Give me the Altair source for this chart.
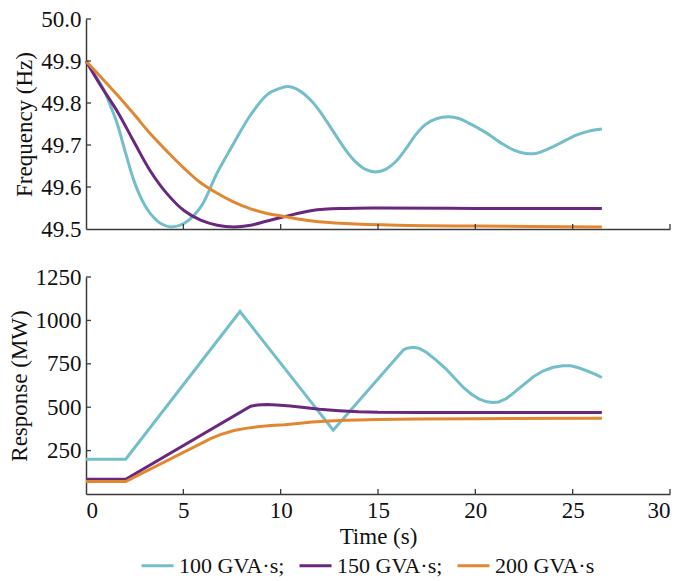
import altair as alt
import pandas as pd

SERIES = ["100 GVA·s;", "150 GVA·s;", "200 GVA·s"]
COLORS = ["#73bec8", "#69287d", "#e18732"]

X_TICKS = [0, 5, 10, 15, 20, 25, 30]
FREQ_TICKS = [49.5, 49.6, 49.7, 49.8, 49.9, 50.0]
RESP_TICKS = [250, 500, 750, 1000, 1250]

# Frequency (Hz)
f100_t = [0, 0.41, 0.92, 1.27, 1.61, 2.04, 2.47, 2.9, 3.32, 3.84, 4.35, 5.03, 5.89, 6.74,
          7.6, 8.46, 9.31, 9.91, 10.35, 10.94, 11.62, 12.14, 12.65, 13.34, 13.85, 14.36,
          14.88, 15.39, 15.9, 16.42, 16.93, 17.45, 17.96, 18.64, 19.16, 19.67, 20.52,
          21.38, 21.98, 22.58, 23.1, 23.6, 24.3, 25.15, 25.84, 26.5]
f100_v = [49.9, 49.870, 49.831, 49.792, 49.750, 49.680, 49.614, 49.567, 49.536, 49.513,
          49.505, 49.513, 49.552, 49.634, 49.705, 49.772, 49.820, 49.834, 49.839, 49.830,
          49.803, 49.772, 49.736, 49.688, 49.660, 49.642, 49.636, 49.642, 49.660, 49.690,
          49.724, 49.749, 49.762, 49.767, 49.763, 49.752, 49.730, 49.703, 49.688, 49.680,
          49.680, 49.688, 49.703, 49.723, 49.733, 49.738]
f150_t = [0, 0.8, 1.61, 2.47, 3.32, 4.18, 5.03, 5.89, 6.74, 7.6, 8.46, 9.31, 10.17, 11.62,
          13.34, 15, 20, 26.5]
f150_v = [49.9, 49.838, 49.780, 49.707, 49.637, 49.583, 49.544, 49.521, 49.509, 49.505,
          49.509, 49.519, 49.529, 49.544, 49.549, 49.550, 49.549, 49.549]
f200_t = [0, 0.8, 1.61, 2.47, 3.32, 4.18, 5.03, 5.89, 6.74, 7.6, 8.46, 9.31, 10.17, 11.62,
          13.34, 16, 20, 26.5]
f200_v = [49.9, 49.86, 49.819, 49.773, 49.726, 49.684, 49.645, 49.610, 49.585, 49.564,
          49.548, 49.537, 49.530, 49.519, 49.513, 49.509, 49.507, 49.505]

# Response (MW)
r100_t = [0, 2.04, 7.91, 12.7, 16.3, 16.5, 16.8, 17.1, 17.5, 18.0, 18.5, 19.0, 19.4, 19.8,
          20.2, 20.6, 20.9, 21.2, 21.6, 22.0, 22.5, 23.0, 23.5, 24.0, 24.5, 24.9, 25.3,
          25.8, 26.2, 26.5]
r100_v = [200, 200, 1051, 368, 830, 840, 845, 840, 815, 770, 720, 660, 612, 575, 547, 531,
          527, 530, 550, 585, 632, 677, 710, 730, 739, 739, 727, 706, 688, 671]
r150_t = [0, 2.04, 8.46, 8.8, 9.3, 9.8, 10.5, 11.2, 12, 13, 14, 15, 17, 26.5]
r150_v = [85, 85, 506, 512, 515, 513, 507, 498, 488, 480, 474, 471, 470, 469]
r200_t = [0, 2.04, 6.4, 6.9, 7.6, 8.2, 8.8, 9.5, 10.2, 11, 11.6, 12.5, 13.4, 15, 17, 20, 26.5]
r200_v = [72, 72, 319, 342, 366, 378, 387, 394, 399, 408, 415, 421, 425, 429, 432, 434, 436]


def frame(groups):
    rows = []
    for name, ts, vs in groups:
        for i, (t, v) in enumerate(zip(ts, vs)):
            rows.append({"t": t, "v": v, "series": name, "i": i})
    return pd.DataFrame(rows)


freq_df = frame([(SERIES[0], f100_t, f100_v), (SERIES[1], f150_t, f150_v), (SERIES[2], f200_t, f200_v)])
resp_df = frame([(SERIES[0], r100_t, r100_v), (SERIES[1], r150_t, r150_v), (SERIES[2], r200_t, r200_v)])

W = 584
H1 = 210
H2 = 217
AX = "#3a3a3a"
FONT = "Liberation Serif"

xscale = alt.Scale(domain=[0, 30], nice=False)
fscale = alt.Scale(domain=[49.5, 50.0], nice=False, zero=False)
rscale = alt.Scale(domain=[0, 1250], nice=False)
cscale = alt.Scale(domain=SERIES, range=COLORS)

legend = alt.Legend(
    title=None, orient="none", direction="horizontal", legendX=54, legendY=529,
    symbolType="stroke", symbolSize=1024, symbolStrokeWidth=3,
    labelFont=FONT, labelFontSize=22, labelColor="#111", labelOffset=4,
    columnPadding=8, labelLimit=300,
)

top_xaxis = alt.Axis(labels=False, ticks=False, title=None, grid=False)
top_yaxis = alt.Axis(values=FREQ_TICKS, format=".1f", ticks=False, title="Frequency (Hz)", grid=False)
bot_xaxis = alt.Axis(values=X_TICKS, format="d", ticks=False, title="Time (s)", labelPadding=5,
                     titlePadding=3, grid=False)
bot_yaxis = alt.Axis(values=RESP_TICKS, format="d", ticks=False, title="Response (MW)", grid=False)

top_lines = alt.Chart(freq_df).mark_line(strokeWidth=3, interpolate="catmull-rom").encode(
    x=alt.X("t:Q", scale=xscale, axis=top_xaxis),
    y=alt.Y("v:Q", scale=fscale, axis=top_yaxis),
    color=alt.Color("series:N", scale=cscale, legend=legend),
    order="i:Q",
)
top_yt = alt.Chart(pd.DataFrame({"v": FREQ_TICKS[1:]})).mark_rule(color=AX, strokeWidth=1.3).encode(
    y=alt.Y("v:Q", scale=fscale, axis=top_yaxis), x=alt.value(0), x2=alt.value(5))
top_xt = alt.Chart(pd.DataFrame({"t": X_TICKS[1:]})).mark_rule(color=AX, strokeWidth=1.3).encode(
    x=alt.X("t:Q", scale=xscale, axis=top_xaxis), y=alt.value(H1), y2=alt.value(H1 - 5))
top = alt.layer(top_lines, top_yt, top_xt).properties(width=W, height=H1)

bot_lines = alt.Chart(resp_df).mark_line(strokeWidth=3, interpolate="linear").encode(
    x=alt.X("t:Q", scale=xscale, axis=bot_xaxis),
    y=alt.Y("v:Q", scale=rscale, axis=bot_yaxis),
    color=alt.Color("series:N", scale=cscale, legend=legend),
    order="i:Q",
)
bot_yt = alt.Chart(pd.DataFrame({"v": RESP_TICKS})).mark_rule(color=AX, strokeWidth=1.3).encode(
    y=alt.Y("v:Q", scale=rscale, axis=bot_yaxis), x=alt.value(0), x2=alt.value(5))
bot_xt = alt.Chart(pd.DataFrame({"t": X_TICKS[1:]})).mark_rule(color=AX, strokeWidth=1.3).encode(
    x=alt.X("t:Q", scale=xscale, axis=bot_xaxis), y=alt.value(H2), y2=alt.value(H2 - 5))
bot = alt.layer(bot_lines, bot_yt, bot_xt).properties(width=W, height=H2)

chart = alt.vconcat(top, bot, spacing=25).properties(
    padding={"top": 0, "left": 0, "right": 0, "bottom": 0}
).configure_view(
    stroke=None
).configure_axis(
    labelFont=FONT, labelFontSize=23, labelColor="#111", labelPadding=5,
    titleFont=FONT, titleFontSize=23, titleFontWeight="normal", titleColor="#111",
    titlePadding=4, domainColor=AX, domainWidth=1.5,
)

chart.save("out.html", embed_options={"renderer": "svg", "actions": False})
